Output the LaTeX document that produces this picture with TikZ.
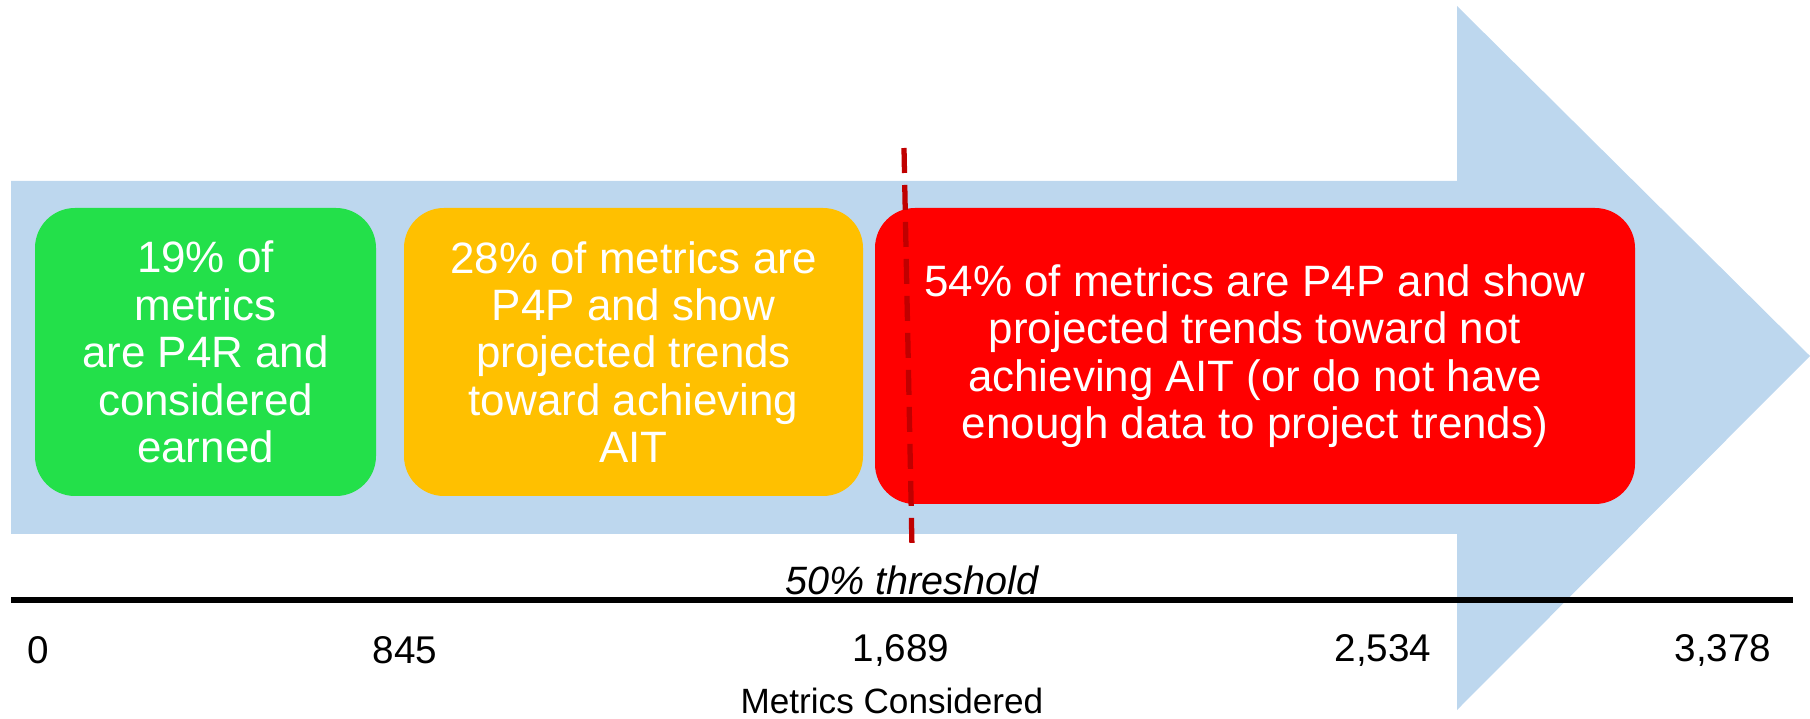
\documentclass[tikz,border=0pt]{standalone}
\usepackage{fontspec}
\setmainfont{Liberation Sans}
\usetikzlibrary{positioning}
\definecolor{arrowblue}{HTML}{BDD7EE}
\definecolor{earnedgreen}{HTML}{23E04A}
\definecolor{trendyellow}{HTML}{FFC000}
\definecolor{notred}{HTML}{FF0000}
\definecolor{threshred}{HTML}{C00000}
\tikzset{
  box/.style={rounded corners=0.8cm, align=center, text=white, inner sep=0pt,
    font=\fontsize{25}{27}\selectfont},
  tick/.style={font=\fontsize{22}{24}\selectfont},
}

\begin{document}
\begin{tikzpicture}[x=0.02cm, y=-0.02cm]
            \useasboundingbox (0,0) rectangle (1810,719);
            \coordinate (ShaftTL) at (11,181);
            \coordinate (ShaftBL) at (11,534);
            \coordinate (HeadTop) at (1457,6);
            \coordinate (HeadBot) at (1457,710);
            \coordinate (Tip)     at (1810,356);
            \fill[arrowblue] (ShaftTL) -- (1457,181) -- (HeadTop) -- (Tip) -- (HeadBot) -- (1457,534) -- (ShaftBL) -- cycle;% Draw big arrow

            \node[box, fill=earnedgreen, minimum width=341*0.02cm, minimum height=288*0.02cm] (earned) at (205.5,352)
              {19\% of\\metrics\\are P4R and\\considered\\earned};
            \node[box, fill=trendyellow, minimum width=459*0.02cm, minimum height=288*0.02cm] (achieving) at (633.5,352)
              {28\% of metrics are\\P4P and show\\projected trends\\toward achieving\\AIT};
            \node[box, fill=notred, minimum width=760*0.02cm, minimum height=296*0.02cm] (notachieving) at (1255,356)
              {54\% of metrics are P4P and show\\projected trends toward not\\achieving AIT (or do not have\\enough data to project trends)};

            \coordinate (ThreshTop) at (904,148);
            \coordinate (ThreshBot) at (912,548);
            \draw[threshred, line width=3pt, dash pattern=on 0.5cm off 0.24cm] (ThreshTop) -- (ThreshBot);% Draw threshold
            \node[font=\fontsize{22.5}{24}\selectfont\itshape] (thresh) at (912,580) {50\% threshold};

            \coordinate (XAxisMin) at (11,600);
            \coordinate (XAxisMax) at (1793,600);
            \draw[black, line width=3.6pt] (XAxisMin) -- (XAxisMax);% Draw x axis

            \node[tick] (t0) at (38,650) {0};
            \node[tick] (t1) at (405,650) {845};
            \node[tick] (t2) at (901,650) {1,689};
            \node[tick] (t3) at (1383,650) {2,534};
            \node[tick] (t4) at (1723,650) {3,378};
            \node[font=\fontsize{20}{22}\selectfont] (xlabel) at (892,701) {Metrics Considered};
        \end{tikzpicture}
\end{document}
